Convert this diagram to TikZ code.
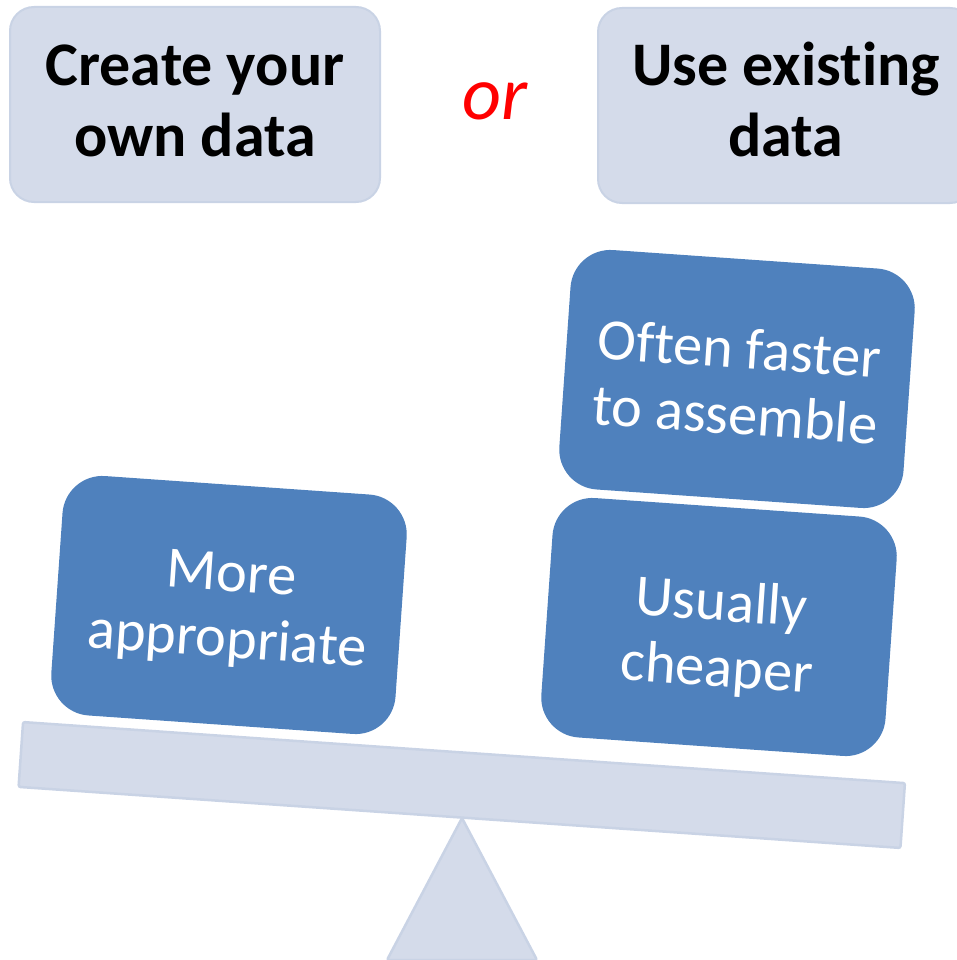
\documentclass[tikz,border=0pt]{standalone}
\usepackage{fontspec}
\setmainfont{Carlito}[Ligatures={NoCommon,NoContextual}]
\definecolor{panel}{RGB}{212,219,234}
\definecolor{panelline}{RGB}{201,211,229}
\definecolor{weightblue}{RGB}{79,129,189}
\begin{document}
\begin{tikzpicture}[x=1pt,y=-1pt,
  choice/.style={draw=panelline, fill=panel, line width=2pt, rounded corners=24pt,
    minimum height=195pt},
  choicetext/.style={align=center, inner sep=0pt, text=black,
    font=\fontsize{62}{71}\selectfont\bfseries},
  weight/.style={fill=weightblue, draw=none, rounded corners=40pt,
    minimum width=345pt, minimum height=240pt, rotate=-4},
  weighttext/.style={inner sep=0pt, rotate=-4, align=center, text=white,
    font=\fontsize{58.5}{66}\selectfont},
  plank/.style={draw=panelline, fill=panel, line width=2.5pt, rounded corners=2pt},
]
\useasboundingbox (0,0) rectangle (957,960);
\clip (0,0) rectangle (957,960);

% the two options
\node[choice, minimum width=370pt] (own) at (195,104.5) {};
\node[choicetext] (own-text) at ([yshift=-2.8pt]own.center)
  {\strut Create your\\own data\strut};
\node[choice, minimum width=376pt] (existing) at (786,105.5) {};
\node[choicetext] (existing-text) at ([yshift=-1.8pt]existing.center)
  {\strut Use existing\\data\strut};
\node[anchor=base, text=red, inner sep=0pt, font=\fontsize{76}{76}\selectfont\itshape]
  (or) at (495,120) {or};

% fulcrum and tilted beam
\path[plank] (462,818) -- (537,960) -- (387,960) -- cycle;
\node[plank, minimum width=884pt, minimum height=65pt, rotate=-3.96] (beam)
  at (461.75,785) {};

% weights on the beam
\node[weight] (appropriate) at (229,605) {};
\node[weighttext] (appropriate-text) at ([yshift=-6pt]appropriate.center)
  {\strut More\\appropriate\strut};
\node[weight] (faster) at (737,379) {};
\node[weighttext] (faster-text) at ([yshift=-9pt]faster.center)
  {\strut Often faster\\to assemble\strut};
\node[weight] (cheaper) at (719,627) {};
\node[weighttext] (cheaper-text) at ([yshift=-13.5pt]cheaper.center)
  {\strut Usually\\cheaper\strut};
\end{tikzpicture}
\end{document}
